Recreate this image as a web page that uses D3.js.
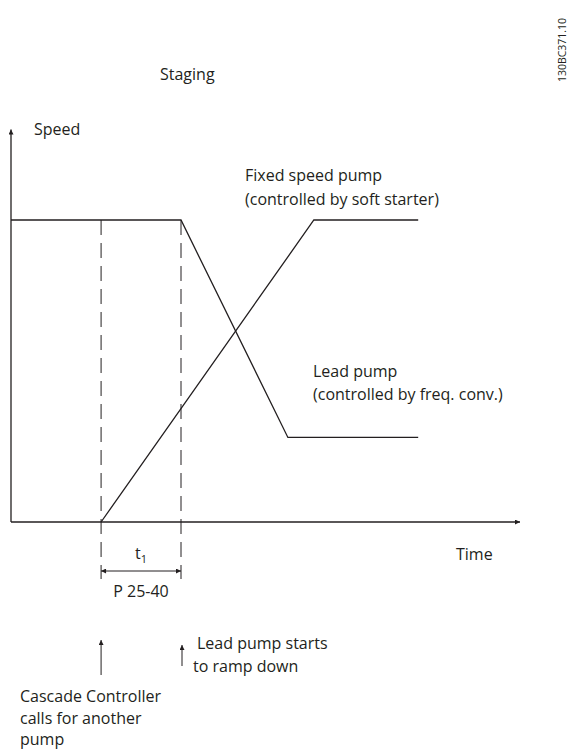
<!DOCTYPE html>
<html>
<head>
<meta charset="utf-8">
<script src="https://cdn.jsdelivr.net/npm/d3@7"></script>
<style>
  html, body { margin: 0; padding: 0; background: #fff; }
  svg text { font-family: "Open Sans", "Noto Sans", sans-serif; fill: #231f20; }
</style>
</head>
<body>
<svg id="chart" width="579" height="751"></svg>
<script>
// Staging sequence: time (% of span) vs. speed (% of full speed)
const leadPumpTime   = [0, 33.4, 54.4, 80];
const leadPumpSpeed  = [100, 100, 28, 28];
const fixedPumpTime  = [17.7, 59.5, 80];
const fixedPumpSpeed = [0, 100, 100];
const markerTimes    = [17.7, 33.4];   // cascade call, lead pump ramp-down start
const axisMax        = { time: 100, speed: 130 };

const svg = d3.select("#chart");
const ink = "#231f20";

const x = d3.scaleLinear().domain([0, axisMax.time]).range([11, 520]);
const y = d3.scaleLinear().domain([0, 100]).range([522, 220]);

// arrowhead
const defs = svg.append("defs");
defs.append("marker").attr("id", "arr")
  .attr("viewBox", "0 0 10 10").attr("refX", 10).attr("refY", 5)
  .attr("markerWidth", 7).attr("markerHeight", 5).attr("markerUnits", "userSpaceOnUse")
  .attr("orient", "auto-start-reverse")
  .append("path").attr("d", "M0,0 L10,5 L0,10 Z").attr("fill", ink);

// axes
svg.append("line").attr("x1", x(0)).attr("y1", y(0)).attr("x2", x(0)).attr("y2", y(axisMax.speed))
  .attr("stroke", ink).attr("stroke-width", 1.3).attr("marker-end", "url(#arr)");
svg.append("line").attr("x1", x(0)).attr("y1", y(0)).attr("x2", x(axisMax.time)).attr("y2", y(0))
  .attr("stroke", ink).attr("stroke-width", 1.3).attr("marker-end", "url(#arr)");

// dashed event markers
svg.selectAll("line.marker").data(markerTimes).enter().append("line")
  .attr("class", "marker")
  .attr("x1", d => x(d)).attr("x2", d => x(d))
  .attr("y1", y(100)).attr("y2", 579)
  .attr("stroke", ink).attr("stroke-width", 1)
  .attr("stroke-dasharray", "15,8");

const line = d3.line().x(d => x(d[0])).y(d => y(d[1]));

svg.append("path").datum(d3.zip(leadPumpTime, leadPumpSpeed))
  .attr("d", line).attr("fill", "none").attr("stroke", ink).attr("stroke-width", 1.3);
svg.append("path").datum(d3.zip(fixedPumpTime, fixedPumpSpeed))
  .attr("d", line).attr("fill", "none").attr("stroke", ink).attr("stroke-width", 1.3);

// t1 dimension
svg.append("line")
  .attr("x1", x(markerTimes[0])).attr("x2", x(markerTimes[1]))
  .attr("y1", 571).attr("y2", 571)
  .attr("stroke", ink).attr("stroke-width", 1)
  .attr("marker-start", "url(#arr)").attr("marker-end", "url(#arr)");

// event arrows
svg.append("line").attr("x1", x(markerTimes[0])).attr("x2", x(markerTimes[0]))
  .attr("y1", 675).attr("y2", 640).attr("stroke", ink).attr("stroke-width", 1).attr("marker-end", "url(#arr)");
svg.append("line").attr("x1", x(markerTimes[1]) + 1).attr("x2", x(markerTimes[1]) + 1)
  .attr("y1", 666).attr("y2", 645).attr("stroke", ink).attr("stroke-width", 1).attr("marker-end", "url(#arr)");

// text
const fs = 16;
function txt(s, tx, ty, anchor) {
  return svg.append("text").attr("x", tx).attr("y", ty)
    .attr("font-size", fs).attr("text-anchor", anchor || "start").text(s);
}
txt("Staging", 160, 80);
txt("Speed", 34, 135);
txt("Fixed speed pump", 245, 181);
txt("(controlled by soft starter)", 245, 205);
txt("Lead pump", 313, 377);
txt("(controlled by freq. conv.)", 313, 400);
txt("Time", 456, 560);
const t1 = txt("t", 135, 559);
t1.append("tspan").attr("font-size", 11).attr("dy", 4).text("1");
txt("P 25-40", 141, 597, "middle");
txt("Lead pump starts", 197, 649);
txt(" to ramp down", 193, 672);
txt("Cascade Controller", 20, 702);
txt("calls for another", 20, 724);
txt("pump", 20, 745);

svg.append("text").attr("transform", "translate(566,50) rotate(-90)")
  .attr("text-anchor", "middle").attr("font-size", 10.5).text("130BC371.10");
</script>
</body>
</html>
